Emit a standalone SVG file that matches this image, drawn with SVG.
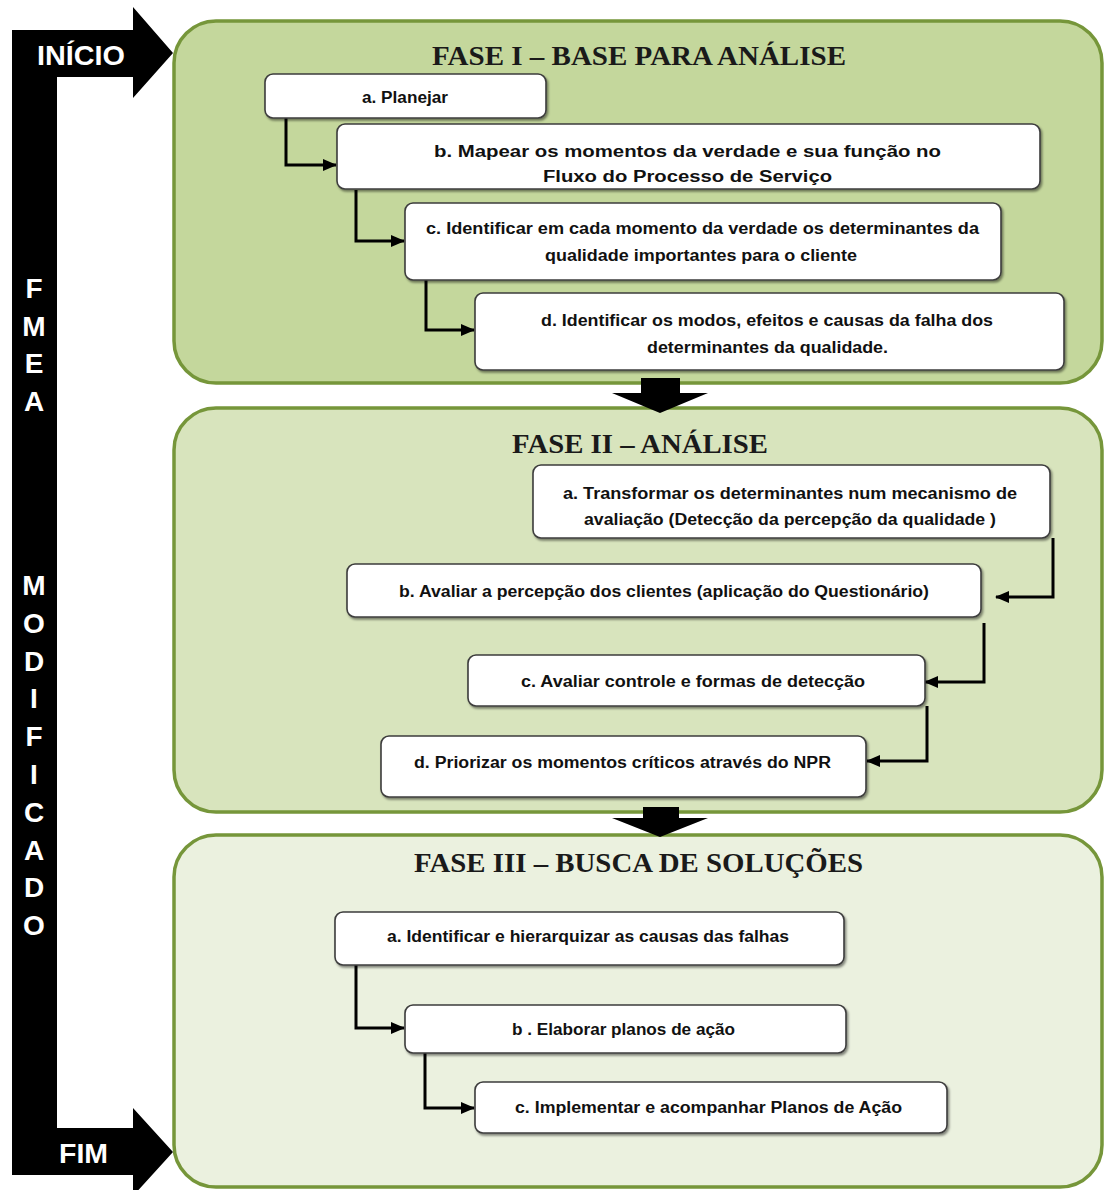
<svg xmlns="http://www.w3.org/2000/svg" width="1104" height="1190" viewBox="0 0 1104 1190">
  <style>
    .phase { stroke: #76963a; stroke-width: 3.5; }
    .p1 { fill: #c4d79c; }
    .p2 { fill: #d8e4bd; }
    .p3 { fill: #ebf1df; }
    .step { fill: #ffffff; stroke: #3c3c3c; stroke-width: 1.6; filter: url(#sh); }
    .title { font-family: "Liberation Serif", "Times New Roman", serif; font-weight: bold; font-size: 28px; fill: #1a1a1a; }
    .lbl { font-family: "Liberation Sans", Arial, sans-serif; font-weight: bold; font-size: 16px; fill: #111111; }
    .side { font-family: "Liberation Sans", Arial, sans-serif; font-weight: bold; font-size: 28px; fill: #ffffff; }
    .conn { fill: none; stroke: #000000; stroke-width: 3; }
  </style>
  <defs>
    <filter id="sh" x="-5%" y="-20%" width="110%" height="150%">
      <feDropShadow dx="1.5" dy="2" stdDeviation="1" flood-color="#000000" flood-opacity="0.45"/>
    </filter>
    <marker id="ah" markerUnits="userSpaceOnUse" markerWidth="14" markerHeight="14" viewBox="0 0 14 14" refX="13" refY="7" orient="auto">
      <path d="M0,1 L14,7 L0,13 Z" fill="#000000"/>
    </marker>
  </defs>

  <rect width="1104" height="1190" fill="#ffffff"/>

  <!-- side flow bar: INÍCIO down to FIM -->
  <g id="side-bar">
    <path d="M12,30 H133 V7 L173,53 L133,98 V77 H57 V1128 H133 V1108 L173,1152 L133,1196 V1175 H12 Z" fill="#000000"/>
    <text class="side" x="37" y="65" textLength="88" lengthAdjust="spacingAndGlyphs">INÍCIO</text>
    <text class="side" x="59" y="1163" textLength="49" lengthAdjust="spacingAndGlyphs">FIM</text>
    <g class="side" text-anchor="middle">
      <text x="34" y="298">F</text>
      <text x="34" y="336">M</text>
      <text x="34" y="373">E</text>
      <text x="34" y="411">A</text>
      <text x="34" y="595">M</text>
      <text x="34" y="633">O</text>
      <text x="34" y="671">D</text>
      <text x="34" y="708">I</text>
      <text x="34" y="746">F</text>
      <text x="34" y="784">I</text>
      <text x="34" y="822">C</text>
      <text x="34" y="860">A</text>
      <text x="34" y="897">D</text>
      <text x="34" y="935">O</text>
    </g>
  </g>

  <!-- phase containers -->
  <g id="fase-1">
    <rect class="phase p1" x="174" y="21" width="928" height="362" rx="42"/>
    <text class="title" x="432" y="65" textLength="414" lengthAdjust="spacingAndGlyphs">FASE I – BASE PARA ANÁLISE</text>
  </g>
  <g id="fase-2">
    <rect class="phase p2" x="174" y="408" width="928" height="404" rx="42"/>
    <text class="title" x="512" y="453" textLength="256" lengthAdjust="spacingAndGlyphs">FASE II – ANÁLISE</text>
  </g>
  <g id="fase-3">
    <rect class="phase p3" x="174" y="835" width="928" height="352" rx="42"/>
    <text class="title" x="414" y="872" textLength="449" lengthAdjust="spacingAndGlyphs">FASE III – BUSCA DE SOLUÇÕES</text>
  </g>

  <!-- phase transitions and step connectors -->
  <g id="connectors">
    <path d="M641,378 H680 V393 H708 L660,413 L612,393 H641 Z" fill="#000000"/>
    <path d="M643,807 H679 V818 H708 L660,837 L612,818 H643 Z" fill="#000000"/>

    <path class="conn" d="M286,118 V165 H336" marker-end="url(#ah)"/>
    <path class="conn" d="M356,190 V241 H404" marker-end="url(#ah)"/>
    <path class="conn" d="M426,280 V330 H474" marker-end="url(#ah)"/>

    <path class="conn" d="M1053,538 V597 H996" marker-end="url(#ah)"/>
    <path class="conn" d="M984,623 V682 H925" marker-end="url(#ah)"/>
    <path class="conn" d="M927,706 V761 H867" marker-end="url(#ah)"/>

    <path class="conn" d="M356,965 V1028 H404" marker-end="url(#ah)"/>
    <path class="conn" d="M425,1053 V1108 H474" marker-end="url(#ah)"/>
  </g>

  <!-- Fase I steps -->
  <g id="f1-a">
    <rect class="step" x="265" y="74" width="281" height="44" rx="8"/>
    <text class="lbl" x="362" y="103" textLength="86" lengthAdjust="spacingAndGlyphs">a. Planejar</text>
  </g>
  <g id="f1-b">
    <rect class="step" x="337" y="124" width="703" height="65" rx="8"/>
    <text class="lbl" x="434" y="157" textLength="507" lengthAdjust="spacingAndGlyphs">b. Mapear os momentos da verdade e sua função no</text>
    <text class="lbl" x="543" y="182" textLength="289" lengthAdjust="spacingAndGlyphs">Fluxo do Processo de Serviço</text>
  </g>
  <g id="f1-c">
    <rect class="step" x="405" y="203" width="596" height="77" rx="8"/>
    <text class="lbl" x="426" y="234" textLength="553" lengthAdjust="spacingAndGlyphs">c. Identificar em cada momento da verdade os determinantes da</text>
    <text class="lbl" x="545" y="261" textLength="312" lengthAdjust="spacingAndGlyphs">qualidade importantes para o cliente</text>
  </g>
  <g id="f1-d">
    <rect class="step" x="475" y="293" width="589" height="77" rx="8"/>
    <text class="lbl" x="541" y="326" textLength="452" lengthAdjust="spacingAndGlyphs">d. Identificar os modos, efeitos e causas da falha dos</text>
    <text class="lbl" x="647" y="353" textLength="241" lengthAdjust="spacingAndGlyphs">determinantes da qualidade.</text>
  </g>

  <!-- Fase II steps -->
  <g id="f2-a">
    <rect class="step" x="533" y="465" width="517" height="73" rx="8"/>
    <text class="lbl" x="563" y="499" textLength="454" lengthAdjust="spacingAndGlyphs">a. Transformar os determinantes num mecanismo de</text>
    <text class="lbl" x="584" y="525" textLength="412" lengthAdjust="spacingAndGlyphs">avaliação (Detecção da percepção da qualidade )</text>
  </g>
  <g id="f2-b">
    <rect class="step" x="347" y="564" width="634" height="53" rx="8"/>
    <text class="lbl" x="399" y="597" textLength="530" lengthAdjust="spacingAndGlyphs">b. Avaliar a percepção dos clientes (aplicação do Questionário)</text>
  </g>
  <g id="f2-c">
    <rect class="step" x="468" y="655" width="457" height="51" rx="8"/>
    <text class="lbl" x="521" y="687" textLength="344" lengthAdjust="spacingAndGlyphs">c. Avaliar controle e formas de detecção</text>
  </g>
  <g id="f2-d">
    <rect class="step" x="381" y="736" width="485" height="61" rx="8"/>
    <text class="lbl" x="414" y="768" textLength="417" lengthAdjust="spacingAndGlyphs">d. Priorizar os momentos críticos através do NPR</text>
  </g>

  <!-- Fase III steps -->
  <g id="f3-a">
    <rect class="step" x="335" y="912" width="509" height="53" rx="8"/>
    <text class="lbl" x="387" y="942" textLength="402" lengthAdjust="spacingAndGlyphs">a. Identificar e hierarquizar as causas das falhas</text>
  </g>
  <g id="f3-b">
    <rect class="step" x="405" y="1005" width="441" height="48" rx="8"/>
    <text class="lbl" x="512" y="1035" textLength="223" lengthAdjust="spacingAndGlyphs">b . Elaborar planos de ação</text>
  </g>
  <g id="f3-c">
    <rect class="step" x="475" y="1082" width="472" height="51" rx="8"/>
    <text class="lbl" x="515" y="1113" textLength="387" lengthAdjust="spacingAndGlyphs">c. Implementar e acompanhar Planos de Ação</text>
  </g>
</svg>
